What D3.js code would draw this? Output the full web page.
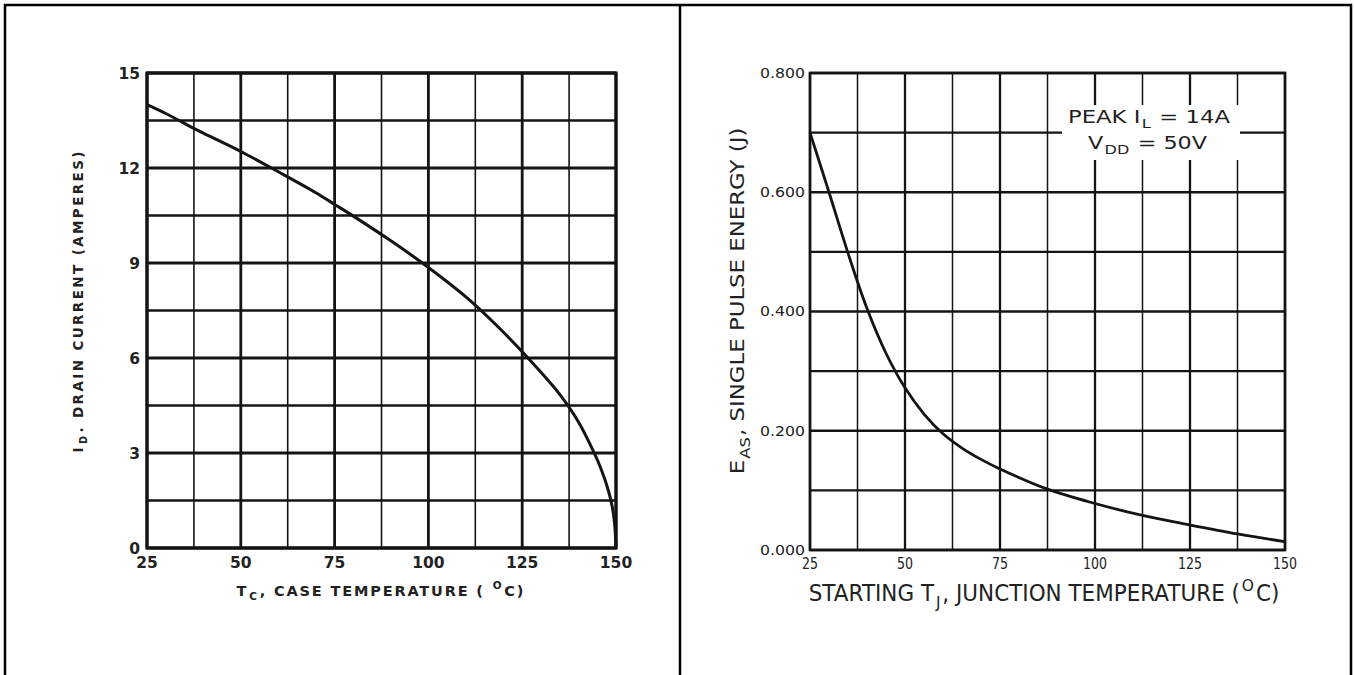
<!DOCTYPE html>
<html><head><meta charset="utf-8">
<script src="https://cdn.jsdelivr.net/npm/d3@7"></script>
<style>html,body{margin:0;padding:0;background:#fff}svg{display:block}</style>
</head><body>
<svg id="c" width="1354" height="675"></svg>
<script>
// ---- data ----
const leftTemp    = [25, 30, 37.5, 40, 50, 60, 70, 75, 80, 90, 100, 110, 118, 125, 130, 135, 140, 144, 146, 148, 149, 149.6, 150];
const leftCurrent = [14.0, 13.72, 13.25, 13.1, 12.52, 11.88, 11.22, 10.85, 10.48, 9.7, 8.86, 7.93, 7.05, 6.2, 5.55, 4.85, 3.98, 3.05, 2.5, 1.8, 1.3, 0.8, 0];
const leftXTicks  = [25, 50, 75, 100, 125, 150];
const leftXMinor  = [37.5, 62.5, 87.5, 112.5, 137.5];
const leftYTicks  = [0, 3, 6, 9, 12, 15];
const leftYMinor  = [1.5, 4.5, 7.5, 10.5, 13.5];

const rightTemp   = [25, 30, 35, 40, 45, 50, 55, 60, 65, 70, 75, 87.5, 100, 112.5, 125, 137.5, 150];
const rightEnergy = [0.700, 0.600, 0.498, 0.405, 0.330, 0.272, 0.228, 0.195, 0.171, 0.152, 0.136, 0.102, 0.078, 0.058, 0.042, 0.027, 0.014];
const rightXTicks = [25, 50, 75, 100, 125, 150];
const rightXMinor = [37.5, 62.5, 87.5, 112.5, 137.5];
const rightYTicks = [0, 0.2, 0.4, 0.6, 0.8];
const rightYLabels = ["0.000", "0.200", "0.400", "0.600", "0.800"];
const rightYMinor = [0.1, 0.3, 0.5, 0.7];

const INK = "#141414";
const svg = d3.select("#c");

// outer table frame
const frame = svg.append("g").attr("stroke", "#000").attr("stroke-width", 2.5);
frame.append("line").attr("x1", 4).attr("x2", 1352).attr("y1", 5).attr("y2", 5);
frame.append("line").attr("x1", 5).attr("x2", 5).attr("y1", 4).attr("y2", 675);
frame.append("line").attr("x1", 680).attr("x2", 680).attr("y1", 4).attr("y2", 675);
frame.append("line").attr("x1", 1351).attr("x2", 1351).attr("y1", 4).attr("y2", 675);

// helper for rich text (sub / sup)
function rich(sel, parts, fs, gap) {
  let shift = 0, prevSmall = false;
  parts.forEach(p => {
    const ts = sel.append("tspan").text(p.t);
    let target = 0;
    if (p.sub) target = fs * 0.3;
    if (p.sup) target = -fs * 0.45;
    ts.attr("dy", target - shift);
    const small = p.sub || p.sup;
    if (small) ts.attr("font-size", fs * 0.72).attr("dx", gap);
    else if (prevSmall) ts.attr("dx", gap);
    prevSmall = small;
    shift = target;
  });
  return sel;
}

// fit a text horizontally into a given width with a scale transform (no textLength)
function fitScale(textSel, cx, cy, width, rotate) {
  const w = textSel.node().getBBox().width;
  const s = width / w;
  textSel.attr("transform", `translate(${cx},${cy})${rotate ? " rotate(-90)" : ""} scale(${s},1)`);
}

function grid(g, x, y, xMajor, xMinor, yMajor, yMinor, w) {
  const [x0, x1] = x.range(), [y0, y1] = y.range();
  g.append("g").selectAll("line").data(xMinor).join("line")
    .attr("x1", d => x(d)).attr("x2", d => x(d)).attr("y1", y0).attr("y2", y1)
    .attr("stroke", INK).attr("stroke-width", w.xMinor);
  g.append("g").selectAll("line").data(yMinor).join("line")
    .attr("y1", d => y(d)).attr("y2", d => y(d)).attr("x1", x0).attr("x2", x1)
    .attr("stroke", INK).attr("stroke-width", w.yMinor);
  g.append("g").selectAll("line").data(xMajor).join("line")
    .attr("x1", d => x(d)).attr("x2", d => x(d)).attr("y1", y0).attr("y2", y1)
    .attr("stroke", INK).attr("stroke-width", w.xMajor);
  g.append("g").selectAll("line").data(yMajor).join("line")
    .attr("y1", d => y(d)).attr("y2", d => y(d)).attr("x1", x0).attr("x2", x1)
    .attr("stroke", INK).attr("stroke-width", w.yMajor);
  g.append("rect").attr("x", x0).attr("y", y1).attr("width", x1 - x0).attr("height", y0 - y1)
    .attr("fill", "none").attr("stroke", INK).attr("stroke-width", w.frame);
}

// ================= LEFT CHART =================
{
  const x = d3.scaleLinear().domain([25, 150]).range([147, 616]);
  const y = d3.scaleLinear().domain([0, 15]).range([548, 73]);
  const g = svg.append("g");
  grid(g, x, y, leftXTicks, leftXMinor, leftYTicks, leftYMinor,
       {xMinor: 1.6, yMinor: 2.3, xMajor: 2.8, yMajor: 2.8, frame: 3.2});

  const line = d3.line().x((d, i) => x(leftTemp[i])).y(d => y(d)).curve(d3.curveCatmullRom.alpha(0.5));
  g.append("path").datum(leftCurrent).attr("d", line)
    .attr("fill", "none").attr("stroke", INK).attr("stroke-width", 3);

  g.append("g").selectAll("text").data(leftYTicks).join("text")
    .attr("x", 140).attr("y", d => y(d)).attr("dy", "0.36em")
    .attr("text-anchor", "end").attr("font-family", "DejaVu Sans").attr("font-weight", "bold")
    .attr("font-size", 15.5).attr("fill", "#222").text(d => d);
  g.append("g").selectAll("text").data(leftXTicks).join("text")
    .attr("x", d => x(d)).attr("y", 568)
    .attr("text-anchor", "middle").attr("font-family", "DejaVu Sans").attr("font-weight", "bold")
    .attr("font-size", 15.5).attr("fill", "#222").text(d => d);

  const yt = g.append("text").attr("transform", "translate(83,302) rotate(-90)")
    .attr("text-anchor", "middle").attr("font-family", "DejaVu Sans").attr("font-weight", "bold")
    .attr("font-size", 13.5).attr("fill", "#222")
    .attr("textLength", 301).attr("lengthAdjust", "spacing");
  rich(yt, [{t: "I"}, {t: "D", sub: true}, {t: ".  DRAIN  CURRENT   (AMPERES)"}], 13.5, 1);

  const xt = g.append("text").attr("x", 380).attr("y", 596)
    .attr("text-anchor", "middle").attr("font-family", "DejaVu Sans").attr("font-weight", "bold")
    .attr("font-size", 14.5).attr("fill", "#222")
    .attr("textLength", 287).attr("lengthAdjust", "spacing");
  rich(xt, [{t: "T"}, {t: "C", sub: true}, {t: ",  CASE  TEMPERATURE  ( "}, {t: "O", sup: true}, {t: "C)"}], 14.5, 1);
}

// ================= RIGHT CHART =================
{
  const x = d3.scaleLinear().domain([25, 150]).range([810, 1285]);
  const y = d3.scaleLinear().domain([0, 0.8]).range([550, 73]);
  const g = svg.append("g");
  grid(g, x, y, rightXTicks, rightXMinor, rightYTicks, rightYMinor,
       {xMinor: 1.5, yMinor: 2.2, xMajor: 2.3, yMajor: 2.3, frame: 2.6});

  // legend box (white background over grid)
  g.append("rect").attr("x", 1062).attr("y", 105).attr("width", 178).attr("height", 55).attr("fill", "#fff");
  const l1 = g.append("text").attr("x", 1068).attr("y", 123)
    .attr("font-family", "DejaVu Sans").attr("font-size", 17).attr("fill", "#222")
    .attr("textLength", 162).attr("lengthAdjust", "spacingAndGlyphs");
  rich(l1, [{t: "PEAK I"}, {t: "L", sub: true}, {t: " = 14A"}], 17, 1);
  const l2 = g.append("text").attr("x", 1088).attr("y", 149)
    .attr("font-family", "DejaVu Sans").attr("font-size", 17).attr("fill", "#222")
    .attr("textLength", 119).attr("lengthAdjust", "spacingAndGlyphs");
  rich(l2, [{t: "V"}, {t: "DD", sub: true}, {t: " = 50V"}], 17, 1);

  const line = d3.line().x((d, i) => x(rightTemp[i])).y(d => y(d)).curve(d3.curveCatmullRom.alpha(0.5));
  g.append("path").datum(rightEnergy).attr("d", line)
    .attr("fill", "none").attr("stroke", INK).attr("stroke-width", 2.8);

  g.append("g").selectAll("text").data(rightYTicks).join("text")
    .attr("x", 805).attr("y", d => y(d)).attr("dy", "0.36em")
    .attr("text-anchor", "end").attr("font-family", "DejaVu Sans")
    .attr("font-size", 13.5).attr("fill", "#222")
    .attr("textLength", 45).attr("lengthAdjust", "spacingAndGlyphs")
    .text((d, i) => rightYLabels[i]);
  g.append("g").selectAll("text").data(rightXTicks).join("text")
    .attr("x", d => x(d)).attr("y", 569)
    .attr("text-anchor", "middle").attr("font-family", "DejaVu Sans")
    .attr("font-size", 15).attr("fill", "#222")
    .attr("textLength", d => String(d).length * 8).attr("lengthAdjust", "spacingAndGlyphs")
    .text(d => d);

  const yt = g.append("text")
    .attr("text-anchor", "middle").attr("font-family", "DejaVu Sans")
    .attr("font-size", 20).attr("fill", "#222");
  rich(yt, [{t: "E"}, {t: "AS", sub: true}, {t: ",  SINGLE  PULSE  ENERGY  (J)"}], 20, 1);
  fitScale(yt, 744, 301, 347, true);

  const xt = g.append("text")
    .attr("text-anchor", "middle").attr("font-family", "DejaVu Sans")
    .attr("font-size", 23).attr("fill", "#222");
  rich(xt, [{t: "STARTING T"}, {t: "J", sub: true}, {t: ",  JUNCTION  TEMPERATURE  ("}, {t: "O", sup: true}, {t: "C)"}], 23, 2);
  fitScale(xt, 1044, 601, 471, false);
}
</script>
</body></html>
